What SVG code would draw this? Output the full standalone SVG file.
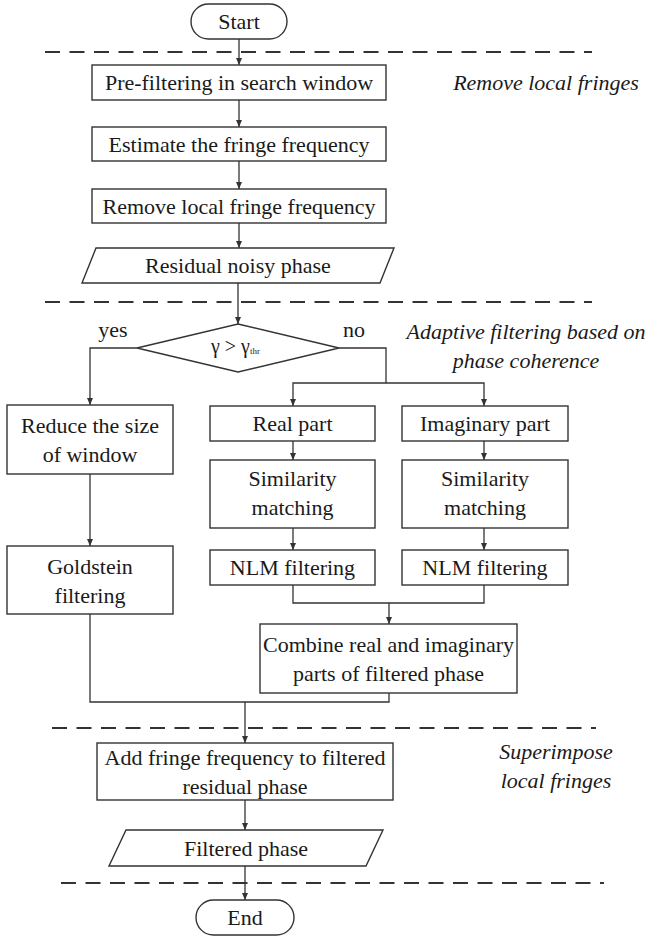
<svg xmlns="http://www.w3.org/2000/svg" width="646" height="937" viewBox="0 0 646 937">
<defs>
<style>
.b{fill:#fff;stroke:#333;stroke-width:1.4}
.t{font-family:"Liberation Serif","Times New Roman",serif;font-size:22px;fill:#1a1a1a;text-anchor:middle}
.i{font-family:"Liberation Serif","Times New Roman",serif;font-size:22px;font-style:italic;fill:#1a1a1a;text-anchor:middle}
.c{fill:none;stroke:#333;stroke-width:1.3}
.d{fill:none;stroke:#333;stroke-width:1.8;stroke-dasharray:15 9.5}
</style>
<marker id="ah" markerWidth="8" markerHeight="8" refX="7" refY="4" orient="auto" markerUnits="userSpaceOnUse">
<path d="M0,1 L7,4 L0,7 Z" fill="#333"/>
</marker>
</defs>
<rect width="646" height="937" fill="#fff"/>

<g id="dashes">
<line class="d" x1="45" y1="52" x2="592" y2="52"/>
<line class="d" x1="45" y1="302" x2="592" y2="302"/>
<line class="d" x1="52" y1="728" x2="596" y2="728"/>
<line class="d" x1="61" y1="883" x2="604" y2="883"/>
</g>

<g id="labels">
<text class="i" x="546" y="90">Remove local fringes</text>
<text class="i" x="526" y="339">Adaptive filtering based on</text>
<text class="i" x="526" y="368">phase coherence</text>
<text class="i" x="556" y="759">Superimpose</text>
<text class="i" x="556" y="788">local fringes</text>
<text class="t" x="113" y="337">yes</text>
<text class="t" x="354" y="337">no</text>
</g>

<g id="connectors">
<line class="c" x1="239" y1="39" x2="239" y2="65" marker-end="url(#ah)"/>
<line class="c" x1="239" y1="100" x2="239" y2="127" marker-end="url(#ah)"/>
<line class="c" x1="239" y1="161" x2="239" y2="189" marker-end="url(#ah)"/>
<line class="c" x1="239" y1="223" x2="239" y2="248" marker-end="url(#ah)"/>
<line class="c" x1="238" y1="283" x2="238" y2="324" marker-end="url(#ah)"/>
<polyline class="c" points="137,348 90,348 90,405" marker-end="url(#ah)"/>
<polyline class="c" points="339,348 386,348 386,383"/>
<polyline class="c" points="386,383 293,383 293,406" marker-end="url(#ah)"/>
<polyline class="c" points="386,383 484,383 484,406" marker-end="url(#ah)"/>
<line class="c" x1="90" y1="474" x2="90" y2="546" marker-end="url(#ah)"/>
<line class="c" x1="293" y1="441" x2="293" y2="460" marker-end="url(#ah)"/>
<line class="c" x1="484" y1="441" x2="484" y2="460" marker-end="url(#ah)"/>
<line class="c" x1="293" y1="528" x2="293" y2="550" marker-end="url(#ah)"/>
<line class="c" x1="484" y1="528" x2="484" y2="550" marker-end="url(#ah)"/>
<polyline class="c" points="293,585 293,603 484,603 484,585"/>
<line class="c" x1="389" y1="603" x2="389" y2="624" marker-end="url(#ah)"/>
<polyline class="c" points="90,614 90,702 389,702 389,693"/>
<line class="c" x1="245" y1="702" x2="245" y2="743" marker-end="url(#ah)"/>
<line class="c" x1="245" y1="800" x2="245" y2="830" marker-end="url(#ah)"/>
<line class="c" x1="245" y1="866" x2="245" y2="900" marker-end="url(#ah)"/>
</g>

<g id="start">
<rect class="b" x="191" y="4" width="96" height="35" rx="17.5"/>
<text class="t" x="239" y="29">Start</text>
</g>
<g id="prefilter">
<rect class="b" x="92" y="65" width="294" height="35"/>
<text class="t" x="239" y="90">Pre-filtering in search window</text>
</g>
<g id="estimate">
<rect class="b" x="92" y="127" width="294" height="34"/>
<text class="t" x="239" y="151.5">Estimate the fringe frequency</text>
</g>
<g id="remove">
<rect class="b" x="92" y="189" width="294" height="34"/>
<text class="t" x="239" y="213.5">Remove local fringe frequency</text>
</g>
<g id="residual">
<polygon class="b" points="96,248 394,248 380,283 82,283"/>
<text class="t" x="238" y="273">Residual noisy phase</text>
</g>
<g id="decision">
<polygon class="b" points="238,324 339,348 238,372 137,348"/>
<text font-family="Liberation Serif, Times New Roman, serif" font-size="20" fill="#1a1a1a" x="211" y="353">γ &gt; γ<tspan font-size="9" dy="1">thr</tspan></text>
</g>
<g id="reduce">
<rect class="b" x="7" y="405" width="166" height="69"/>
<text class="t" x="90" y="433">Reduce the size</text>
<text class="t" x="90" y="462">of window</text>
</g>
<g id="goldstein">
<rect class="b" x="7" y="546" width="166" height="68"/>
<text class="t" x="90" y="573.5">Goldstein</text>
<text class="t" x="90" y="602.5">filtering</text>
</g>
<g id="real">
<rect class="b" x="210" y="406" width="165" height="35"/>
<text class="t" x="292.5" y="431">Real part</text>
</g>
<g id="imag">
<rect class="b" x="402" y="406" width="166" height="35"/>
<text class="t" x="485" y="431">Imaginary part</text>
</g>
<g id="sim1">
<rect class="b" x="210" y="460" width="165" height="68"/>
<text class="t" x="292.5" y="486">Similarity</text>
<text class="t" x="292.5" y="515">matching</text>
</g>
<g id="sim2">
<rect class="b" x="402" y="460" width="166" height="68"/>
<text class="t" x="485" y="486">Similarity</text>
<text class="t" x="485" y="515">matching</text>
</g>
<g id="nlm1">
<rect class="b" x="210" y="550" width="165" height="35"/>
<text class="t" x="292.5" y="575">NLM filtering</text>
</g>
<g id="nlm2">
<rect class="b" x="402" y="550" width="166" height="35"/>
<text class="t" x="485" y="575">NLM filtering</text>
</g>
<g id="combine">
<rect class="b" x="260" y="624" width="257" height="69"/>
<text class="t" x="388.5" y="652">Combine real and imaginary</text>
<text class="t" x="388.5" y="681">parts of filtered phase</text>
</g>
<g id="add">
<rect class="b" x="97" y="743" width="296" height="57"/>
<text class="t" x="245" y="765">Add fringe frequency to filtered</text>
<text class="t" x="245" y="794">residual phase</text>
</g>
<g id="filtered">
<polygon class="b" points="126,830 383,830 366,866 109,866"/>
<text class="t" x="246" y="855.5">Filtered phase</text>
</g>
<g id="end">
<rect class="b" x="196" y="900" width="98" height="35" rx="17.5"/>
<text class="t" x="245" y="925">End</text>
</g>
</svg>
